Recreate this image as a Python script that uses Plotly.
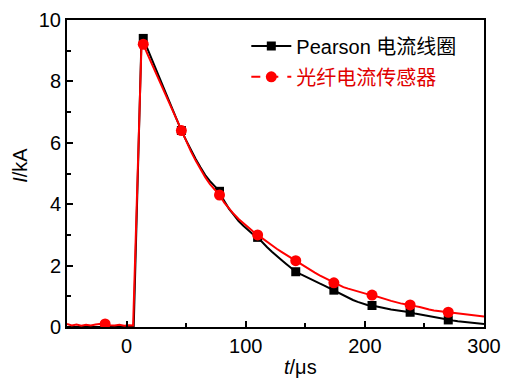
import plotly.graph_objects as go

# Pearson coil current trace (time in µs, current in kA)
pearson_t = [-50, -30, -10, 6, 12.5, 14, 18, 22, 26, 30, 34, 38, 42, 46, 50, 54, 58, 62, 66, 70,
             74, 78, 82, 86, 90, 94, 98, 102, 106, 110, 114, 118, 122, 126, 130, 134, 138,
             142, 146, 150, 154, 158, 162, 166, 170, 174, 178, 182, 186, 190, 194, 198, 202,
             206, 210, 214, 218, 222, 226, 230, 234, 238, 242, 246, 250, 254, 258, 262, 266,
             270, 274, 278, 282, 286, 290, 294, 298, 300]
pearson_i = [0, 0, 0, 0, 9.35, 9.40, 9.02, 8.64, 8.27, 7.9, 7.52, 7.15, 6.77, 6.40, 6.08, 5.76,
             5.47, 5.2, 4.95, 4.75, 4.57, 4.42, 4.1, 3.85, 3.65, 3.45, 3.3, 3.15, 3.02, 2.92,
             2.75, 2.6, 2.45, 2.3, 2.18, 2.05, 1.92, 1.80, 1.72, 1.64, 1.56, 1.5, 1.42, 1.35,
             1.27, 1.20, 1.1, 1.02, 0.95, 0.88, 0.82, 0.77, 0.72, 0.70, 0.66, 0.63, 0.6, 0.57,
             0.55, 0.52, 0.5, 0.48, 0.44, 0.41, 0.37, 0.34, 0.32, 0.3, 0.27, 0.23, 0.21, 0.19,
             0.17, 0.15, 0.13, 0.12, 0.1, 0.1]

# Optical fibre current sensor trace
fiber_t = [-50, -46, -42, -38, -34, -30, -26, -22, -18, -14, -10, -6, -2, 2, 5.5, 12.5, 14, 18,
           22, 26, 30, 34, 38, 42, 46, 50, 54, 58, 62, 66, 70, 74, 78, 82, 86, 90, 94, 98, 102,
           106, 110, 114, 118, 122, 126, 130, 134, 138, 142, 146, 150, 154, 158, 162, 166, 170,
           174, 178, 182, 186, 190, 194, 198, 202, 206, 210, 214, 218, 222, 226, 230, 234, 238,
           242, 246, 250, 254, 258, 262, 266, 270, 274, 278, 282, 286, 290, 294, 298, 300]
fiber_i = [0.1, 0.05, 0.08, 0.04, 0.07, 0.05, 0.08, 0.1, 0.12, 0.06, 0.05, 0.07, 0.04, 0.06,
           0.05, 9.15, 9.21, 8.85, 8.5, 8.15, 7.8, 7.45, 7.08, 6.72, 6.40, 6.05, 5.72, 5.42,
           5.14, 4.88, 4.65, 4.46, 4.30, 4.05, 3.85, 3.68, 3.52, 3.38, 3.24, 3.12, 3.00, 2.88,
           2.76, 2.65, 2.55, 2.45, 2.35, 2.25, 2.16, 2.05, 1.95, 1.86, 1.77, 1.68, 1.6, 1.52,
           1.44, 1.37, 1.3, 1.25, 1.2, 1.15, 1.1, 1.07, 1.04, 1.0, 0.95, 0.9, 0.85, 0.8, 0.77,
           0.74, 0.72, 0.68, 0.65, 0.6, 0.57, 0.54, 0.52, 0.5, 0.48, 0.46, 0.43, 0.41, 0.39,
           0.37, 0.36, 0.35, 0.34]

# Symbol positions along each trace
mark_t = [-18, 14, 46, 78, 110, 142, 174, 206, 238, 270]
pearson_mark = [0, 9.40, 6.40, 4.42, 2.92, 1.80, 1.20, 0.70, 0.48, 0.23]
fiber_mark = [0.1, 9.21, 6.40, 4.30, 3.00, 2.16, 1.44, 1.04, 0.72, 0.48]

x_ticks = [0, 100, 200, 300]
y_ticks = [0, 2, 4, 6, 8, 10]

BLACK = "#000000"
RED = "#ff0000"
FONT = "Liberation Sans, Arial, Noto Sans CJK SC"

fig = go.Figure()

fig.add_trace(go.Scatter(x=pearson_t, y=pearson_i, mode="lines",
                         line=dict(color=BLACK, width=2), showlegend=False))
fig.add_trace(go.Scatter(x=mark_t, y=pearson_mark, mode="markers",
                         marker=dict(symbol="square", size=9, color=BLACK),
                         showlegend=False))
fig.add_trace(go.Scatter(x=fiber_t, y=fiber_i, mode="lines",
                         line=dict(color=RED, width=2), showlegend=False))
fig.add_trace(go.Scatter(x=mark_t, y=fiber_mark, mode="markers",
                         marker=dict(symbol="circle", size=11, color=RED),
                         showlegend=False))

# Legend entries
fig.add_trace(go.Scatter(x=[None], y=[None], mode="lines+markers",
                         name="Pearson 电流线圈",
                         line=dict(color=BLACK, width=2),
                         marker=dict(symbol="square", size=9, color=BLACK),
                         legend="legend"))
fig.add_trace(go.Scatter(x=[None], y=[None], mode="lines+markers",
                         name='<span style="color:#e00000">光纤电流传感器</span>',
                         line=dict(color=RED, width=2, dash="dash"),
                         marker=dict(symbol="circle", size=11, color=RED),
                         legend="legend2"))

axis_common = dict(
    showline=True, linecolor=BLACK, linewidth=2, mirror=True,
    ticks="inside", ticklen=6, tickwidth=2, tickcolor=BLACK,
    showgrid=False, zeroline=False, automargin=False,
    tickfont=dict(family=FONT, size=20, color=BLACK),
)

fig.update_xaxes(range=[-50, 300], tickvals=x_ticks,
                 minor=dict(ticks="inside", ticklen=4, tickwidth=2, tickcolor=BLACK,
                            tickvals=[-50, 50, 150, 250]),
                 **axis_common)
fig.update_yaxes(range=[0, 10], tickvals=y_ticks,
                 minor=dict(ticks="inside", ticklen=4, tickwidth=2, tickcolor=BLACK,
                            tickvals=[1, 3, 5, 7, 9]),
                 **axis_common)

# Axis titles
title_font = dict(family=FONT, size=20, color=BLACK)
fig.add_annotation(text="<i>t</i>/μs", xref="paper", yref="paper", x=0.559, y=-0.13,
                   xanchor="center", yanchor="middle", showarrow=False, font=title_font)
fig.add_annotation(text="<i>I</i>/kA", xref="paper", yref="paper", x=-0.113, y=0.528,
                   xanchor="center", yanchor="middle", textangle=-90, showarrow=False,
                   font=title_font)

legend_common = dict(bgcolor="rgba(0,0,0,0)", borderwidth=0,
                     font=dict(family=FONT, size=20, color=BLACK),
                     xanchor="left", yanchor="middle", itemwidth=40)

fig.update_layout(
    width=505, height=378,
    margin=dict(l=67, r=21, t=20, b=51),
    paper_bgcolor="white", plot_bgcolor="white",
    legend=dict(x=0.43, y=0.915, **legend_common),
    legend2=dict(x=0.43, y=0.815, **legend_common),
)

fig.write_html("out.html")
